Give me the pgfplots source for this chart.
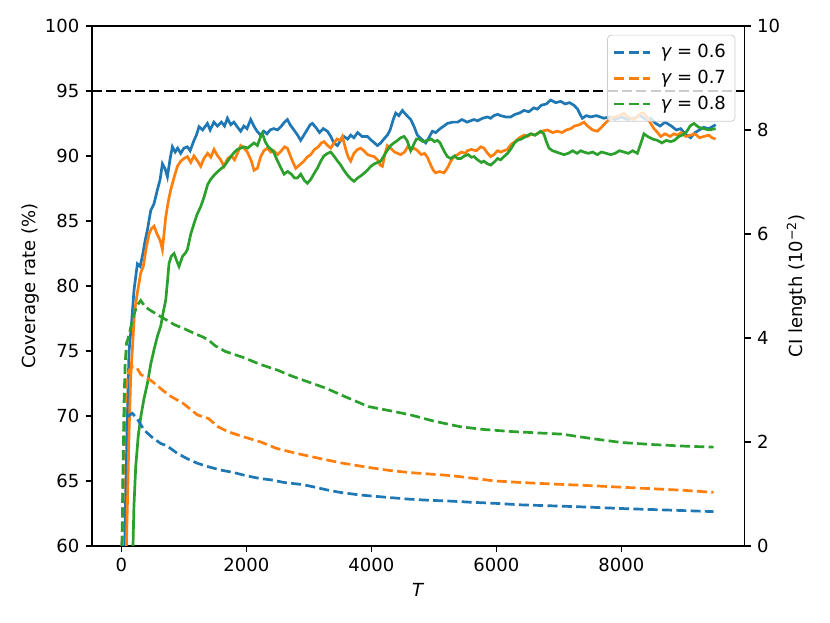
\documentclass[border=0pt]{standalone}
\usepackage{fontspec}
\setmainfont{DejaVu Sans}
\usepackage{pgfplots}
\pgfplotsset{compat=1.18}
\definecolor{c0}{HTML}{1F77B4}
\definecolor{c1}{HTML}{FF7F0E}
\definecolor{c2}{HTML}{2CA02C}
\newcommand{\gameq}[1]{\hspace{3pt}\textit{γ}\hspace{2.8pt}=\hspace{2.8pt}#1}
\begin{document}
\begin{tikzpicture}
\path[use as bounding box] (-51.1pt,-42.75pt) rectangle (409.7pt,303.1pt);
\pgfplotsset{
  every axis/.append style={
    scale only axis, width=362.2pt, height=288.7pt,
    xmin=-470, xmax=9970,
    axis line style={line width=0.8pt},
    tick align=outside, major tick length=3.5pt,
    every tick/.style={black, line width=0.8pt},
    tick label style={font=\fontsize{10}{12}\selectfont},
    label style={font=\fontsize{10}{12}\selectfont},
    /pgf/number format/assume math mode=true,
    /pgf/number format/1000 sep={},
    scaled x ticks=false,
  },
}
\begin{axis}[
  ymin=60, ymax=100,
  ytick={60,65,...,100},
  xtick={0,2000,4000,6000,8000},
  tick pos=left,
  xlabel={\textit{T}},
  ylabel={Coverage rate (\%)},
  xlabel style={at={(axis description cs:0.5,-0.085)}, anchor=center},
  ylabel style={at={(axis description cs:-0.095,0.5)}, anchor=center},
]
\addplot[draw=black, dash pattern=on 5.55pt off 2.4pt, line width=1.5pt] coordinates {(-470,95) (9970,95)};
% gamma = 0.6 coverage
\addplot[c0, line width=1.5pt] coordinates {
(20,40) (60,62) (96,70) (122,75) (160,77) (202,79.7) (256,81.7) (300,81.5) (336,82.3) (380,83.5)
(416,84.3) (469,85.8) (520,86.3) (576,87.4) (620,88.2) (656,89.4) (700,89.0) (736,88.4) (780,89.8) (816,90.7)
(860,90.3) (900,90.6) (949,90.2) (1000,90.6) (1056,90.7) (1100,90.4) (1162,91.2) (1200,91.6) (1242,92.25) (1300,92.0)
(1376,92.5) (1420,92.0) (1480,92.6) (1536,92.3) (1600,92.6) (1650,92.3) (1696,92.9) (1750,92.4) (1800,92.6) (1860,92.2)
(1909,91.9) (1960,92.3) (2010,92.1) (2069,92.8) (2120,92.3) (2170,91.9) (2229,91.6) (2280,91.9) (2330,91.7) (2380,92.0)
(2437,92.1) (2500,92.0) (2560,92.3) (2610,92.6) (2656,92.8) (2700,92.4) (2760,92.0) (2820,91.6) (2869,91.2) (2920,91.6)
(2970,92.0) (3020,92.4) (3056,92.5) (3110,92.2) (3170,91.8) (3230,92.1) (3296,91.9) (3350,91.5) (3400,91.0) (3456,90.8)
(3510,91.2) (3560,91.5) (3620,91.3) (3669,91.6) (3720,91.4) (3780,91.8) (3850,91.5) (3936,91.5) (4000,91.2) (4050,91.0)
(4096,90.8) (4150,91.0) (4200,91.3) (4256,91.6) (4300,92.0) (4350,92.8) (4389,93.3) (4440,93.1) (4496,93.5) (4550,93.2)
(4590,93.0) (4629,92.8) (4680,92.3) (4736,91.6) (4800,91.3) (4869,91.0) (4920,91.4) (4976,91.9) (5030,91.8) (5100,92.1)
(5160,92.3) (5216,92.5) (5300,92.6) (5380,92.6) (5450,92.8) (5530,92.6) (5642,92.8) (5700,92.7) (5780,92.9) (5856,93.0)
(5909,92.9) (5960,93.1) (6020,93.2) (6069,93.1) (6150,93.0) (6229,93.0) (6300,93.2) (6370,93.3) (6442,93.5) (6520,93.4)
(6600,93.7) (6656,93.6) (6720,93.9) (6800,94.0) (6869,94.3) (6950,94.1) (7029,94.2) (7100,94.0) (7170,94.1) (7242,93.9)
(7300,93.6) (7340,93.2) (7376,92.9) (7440,93.1) (7509,93.0) (7600,93.1) (7722,92.9) (7800,93.0) (7900,92.8) (8000,93.0)
(8100,92.8) (8200,92.9) (8300,93.1) (8400,92.8) (8469,92.9) (8550,92.5) (8620,92.3) (8700,92.6) (8800,92.3) (8880,92.0)
(8949,92.1) (9020,91.7) (9109,91.4) (9180,91.8) (9250,92.0) (9317,92.2) (9400,92.1) (9509,92.4)
};
% gamma = 0.7 coverage
\addplot[c1, line width=1.5pt] coordinates {
(30,40) (69,58) (100,64) (122,68.7) (149,73) (180,75.5) (210,78) (256,79.5) (309,81) (350,81.5)
(400,83.0) (442,84.0) (480,84.4) (522,84.6) (570,84.0) (620,83.5) (656,82.8) (709,85.3) (750,86.5) (789,87.4)
(840,88.3) (896,89.2) (950,89.6) (1000,89.8) (1056,89.95) (1110,89.5) (1160,90.0) (1220,89.6) (1269,89.2) (1320,89.8)
(1380,90.2) (1430,89.9) (1482,90.5) (1540,90.0) (1590,89.7) (1642,89.2) (1700,89.8) (1760,90.0) (1810,89.7) (1856,90.2)
(1909,90.8) (1960,90.6) (2016,90.3) (2080,89.6) (2122,88.9) (2176,89.05) (2229,89.95) (2280,90.4) (2336,90.6) (2390,90.3)
(2437,90.4) (2500,90.1) (2560,90.4) (2610,90.7) (2656,90.6) (2720,89.8) (2789,89.05) (2850,89.3) (2920,89.6) (2970,89.9)
(3029,90.1) (3090,90.5) (3150,90.7) (3200,91.0) (3242,91.1) (3300,90.8) (3350,90.6) (3402,91.0) (3450,91.3) (3500,91.2)
(3536,91.5) (3590,90.5) (3630,89.9) (3669,89.6) (3720,90.2) (3780,90.5) (3829,90.6) (3880,90.4) (3940,90.1) (4000,90.0)
(4042,89.95) (4100,89.7) (4140,89.3) (4176,89.2) (4220,90.2) (4256,90.8) (4310,90.6) (4370,90.3) (4420,90.2) (4469,90.1)
(4530,90.3) (4580,90.7) (4630,90.5) (4682,90.6) (4740,90.4) (4800,90.1) (4850,90.2) (4896,89.9) (4950,89.3) (4990,88.9)
(5029,88.7) (5090,88.8) (5162,88.7) (5220,89.1) (5270,89.6) (5322,89.95) (5380,90.1) (5440,90.3) (5500,90.2) (5536,90.4)
(5600,90.5) (5680,90.4) (5750,90.7) (5802,90.6) (5860,90.2) (5909,89.95) (5960,90.1) (6020,90.4) (6069,90.3) (6120,90.4)
(6176,90.5) (6240,90.9) (6300,91.1) (6370,91.4) (6442,91.6) (6500,91.5) (6560,91.7) (6610,91.6) (6656,91.7) (6730,91.9)
(6816,92.0) (6900,91.8) (6976,91.9) (7050,91.8) (7120,92.0) (7189,92.1) (7250,92.3) (7330,92.4) (7402,92.6) (7460,92.3)
(7540,92.0) (7616,91.9) (7680,92.2) (7760,92.6) (7829,92.9) (7900,93.0) (7970,93.1) (8042,93.3) (8100,93.0) (8160,92.9)
(8202,92.8) (8270,93.1) (8320,93.3) (8362,93.3) (8420,92.9) (8470,92.5) (8522,92.1) (8580,91.8) (8629,91.5) (8700,91.7)
(8780,91.5) (8840,91.7) (8896,91.6) (8960,91.8) (9030,91.5) (9109,91.6) (9180,91.7) (9250,91.4) (9322,91.5) (9400,91.6)
(9450,91.4) (9509,91.3)
};
% gamma = 0.8 coverage
\addplot[c2, line width=1.5pt] coordinates {
(150,40) (176,58) (200,63) (229,66.1) (270,68.5) (309,69.9) (360,71.3) (416,72.5) (470,74) (522,75.1)
(580,76.2) (629,76.9) (670,78) (709,78.9) (740,80.5) (762,81.75) (800,82.3) (842,82.5) (880,82.0) (922,81.5)
(980,82.3) (1020,82.5) (1056,82.8) (1110,84.0) (1162,84.8) (1210,85.5) (1269,86.1) (1320,86.8) (1380,87.8) (1429,88.2)
(1480,88.5) (1540,88.8) (1590,89.0) (1642,89.2) (1700,89.6) (1760,90.0) (1810,90.3) (1856,90.5) (1909,90.6) (1960,90.7)
(2020,90.6) (2069,90.8) (2122,91.0) (2176,90.8) (2229,91.5) (2256,91.75) (2300,91.1) (2350,90.7) (2400,90.5) (2437,90.3)
(2480,89.8) (2530,89.3) (2602,88.6) (2660,88.8) (2720,88.6) (2770,88.3) (2816,88.3) (2870,88.6) (2930,88.1) (2976,87.9)
(3030,88.2) (3090,88.7) (3136,89.05) (3190,89.6) (3240,90.0) (3300,90.2) (3349,90.3) (3400,90.0) (3460,89.6) (3509,89.3)
(3560,88.9) (3620,88.5) (3680,88.2) (3722,88.05) (3780,88.3) (3840,88.5) (3890,88.7) (3936,88.9) (3990,89.2) (4050,89.4)
(4100,89.5) (4149,89.6) (4200,90.0) (4250,90.4) (4309,90.8) (4360,91.0) (4420,91.2) (4470,91.4) (4522,91.5) (4570,91.2)
(4629,90.4) (4680,90.9) (4720,91.3) (4762,91.3) (4830,91.1) (4896,91.2) (4960,91.3) (5010,91.1) (5056,91.2) (5100,91.0)
(5160,90.4) (5216,89.95) (5270,89.8) (5330,90.0) (5380,89.8) (5429,89.8) (5490,90.0) (5550,90.1) (5600,89.9) (5642,89.95)
(5700,89.7) (5760,89.5) (5800,89.6) (5856,89.4) (5909,89.3) (5960,89.5) (6020,89.8) (6069,89.7) (6122,89.95) (6180,90.2)
(6240,90.6) (6290,91.0) (6336,91.2) (6400,91.3) (6470,91.5) (6549,91.7) (6620,91.6) (6709,91.9) (6760,91.7) (6800,91.1)
(6842,90.6) (6900,90.4) (6960,90.3) (7020,90.2) (7082,90.1) (7150,90.2) (7220,90.4) (7290,90.2) (7350,90.4) (7402,90.3)
(7470,90.2) (7540,90.3) (7616,90.1) (7680,90.3) (7760,90.2) (7829,90.1) (7900,90.2) (7970,90.4) (8042,90.3) (8110,90.2)
(8180,90.4) (8256,90.2) (8300,90.8) (8362,91.7) (8420,91.5) (8500,91.3) (8576,91.2) (8650,91.0) (8720,91.2) (8789,91.1)
(8850,91.2) (8920,91.5) (8976,91.6) (9050,91.9) (9100,92.3) (9162,92.5) (9240,92.2) (9317,92.1) (9400,92.0) (9509,92.1)
};
\end{axis}
\begin{axis}[
  ymin=0, ymax=10,
  ytick={0,2,4,6,8,10},
  axis y line*=right,
  axis x line=none,
  ylabel={CI length (10\textsuperscript{−2})},
  ylabel style={at={(axis description cs:1.08,0.5)}, anchor=center},
  legend cell align=left,
  legend style={at={(rel axis cs:0.986,0.983)}, anchor=north east,
    draw=black!20, fill=white, fill opacity=0.8, text opacity=1,
    rounded corners=2pt, inner xsep=3pt, inner ysep=3pt, row sep=1.5pt,
    font=\fontsize{10}{12}\selectfont},
  legend image code/.code={\draw[#1] (0pt,0pt) -- (20pt,0pt);},
]
\addplot[c0, line width=1.5pt, dash pattern=on 5.55pt off 2.4pt] coordinates {
(10,0) (40,1.8) (70,2.3) (110,2.5) (176,2.55) (250,2.45) (362,2.23) (480,2.1) (629,1.97) (722,1.93)
(896,1.78) (1050,1.68) (1216,1.59) (1400,1.52) (1589,1.46) (1800,1.41) (2000,1.35) (2200,1.30) (2400,1.27) (2606,1.22)
(2900,1.18) (3100,1.13) (3280,1.08) (3500,1.03) (3819,0.98) (4200,0.94) (4600,0.90) (4896,0.88) (5300,0.86) (5600,0.84)
(5973,0.82) (6400,0.79) (6917,0.77) (7400,0.75) (7994,0.72) (8500,0.70) (9000,0.68) (9475,0.66)
};
\addlegendentry{\gameq{0.6}}
\addplot[c1, line width=1.5pt, dash pattern=on 5.55pt off 2.4pt] coordinates {
(10,0) (50,2.5) (90,3.2) (122,3.38) (180,3.45) (250,3.42) (309,3.3) (451,3.2) (560,3.1) (653,3.0)
(800,2.87) (990,2.74) (1216,2.52) (1394,2.45) (1536,2.30) (1700,2.20) (1950,2.10) (2229,2.0) (2472,1.88) (2800,1.78)
(3146,1.69) (3500,1.60) (3954,1.51) (4300,1.45) (4627,1.41) (5299,1.35) (5973,1.25) (6400,1.22) (6917,1.19) (7500,1.16)
(7994,1.13) (8500,1.10) (9000,1.07) (9475,1.03)
};
\addlegendentry{\gameq{0.7}}
\addplot[c2, line width=1.5pt, dash pattern=on 5.55pt off 2.4pt] coordinates {
(10,0) (25,1.5) (43,2.81) (60,3.5) (82,3.9) (110,4.0) (149,4.2) (200,4.45) (250,4.62) (309,4.72)
(380,4.6) (451,4.54) (629,4.41) (856,4.25) (1000,4.18) (1162,4.09) (1300,4.02) (1394,3.96) (1500,3.85) (1664,3.74)
(1962,3.62) (2203,3.5) (2500,3.38) (2741,3.26) (3000,3.15) (3280,3.03) (3600,2.86) (3954,2.68) (4300,2.6) (4627,2.52)
(5000,2.40) (5435,2.29) (5800,2.24) (6243,2.20) (7051,2.15) (7500,2.07) (7994,1.99) (8500,1.95) (9000,1.92) (9475,1.90)
};
\addlegendentry{\gameq{0.8}}
\end{axis}
\end{tikzpicture}
\end{document}
